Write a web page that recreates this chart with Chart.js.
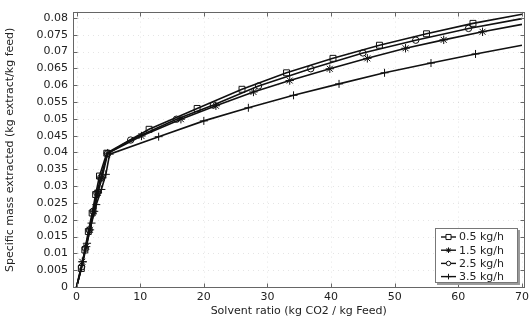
<!DOCTYPE html>
<html><head><meta charset="utf-8">
<script src="https://cdn.jsdelivr.net/npm/chart.js@4.4.0/dist/chart.umd.min.js"></script>
<style>html,body{margin:0;padding:0;background:#fff}#wrap{width:532px;height:320px}</style>
</head><body><div id="wrap"><canvas id="c" width="532" height="320"></canvas></div>
<script>
// ---- data ----
const seriesLabels = ['0.5 kg/h', '1.5 kg/h', '2.5 kg/h', '3.5 kg/h'];

const x05 = [0, 0.75, 1.3, 1.85, 2.45, 3.0, 3.6, 4.75, 11.4, 18.95, 26.0, 33.0, 40.3, 47.6, 55.0, 62.3, 70];
const y05 = [0, 0.0055, 0.011, 0.0165, 0.022, 0.0275, 0.033, 0.0398, 0.0469, 0.0531, 0.0588, 0.0637, 0.068, 0.0719, 0.0753, 0.0784, 0.0811];

const x15 = [0, 0.9, 1.5, 2.1, 2.75, 3.35, 4.0, 4.9, 10.2, 16.4, 21.9, 27.8, 33.5, 39.8, 45.7, 51.7, 57.7, 63.8, 70];
const y15 = [0, 0.0075, 0.012, 0.017, 0.0225, 0.028, 0.0325, 0.0398, 0.0449, 0.0499, 0.0539, 0.058, 0.0614, 0.0649, 0.068, 0.071, 0.0735, 0.0759, 0.0781];

const x25 = [0, 0.8, 1.4, 2.0, 2.6, 3.2, 3.8, 4.85, 8.5, 15.7, 21.5, 28.6, 36.8, 45.0, 53.3, 61.6, 70];
const y25 = [0, 0.006, 0.0115, 0.017, 0.0225, 0.028, 0.0325, 0.0397, 0.0437, 0.0499, 0.0541, 0.0598, 0.0649, 0.0696, 0.0734, 0.0769, 0.0798];

const x35 = [0, 1.0, 1.65, 2.35, 3.1, 3.9, 4.6, 5.2, 12.9, 20.0, 27.0, 34.1, 41.25, 48.4, 55.7, 62.7, 70];
const y35 = [0, 0.0075, 0.013, 0.019, 0.0245, 0.029, 0.0335, 0.0395, 0.0447, 0.0494, 0.0533, 0.057, 0.0604, 0.0637, 0.0666, 0.0693, 0.0719];

const xTicks = [0, 10, 20, 30, 40, 50, 60, 70];
const yTicks = [0, 0.005, 0.01, 0.015, 0.02, 0.025, 0.03, 0.035, 0.04, 0.045, 0.05, 0.055, 0.06, 0.065, 0.07, 0.075, 0.08];

const xTitle = 'Solvent ratio (kg CO2 / kg Feed)';
const yTitle = 'Specific mass extracted (kg extract/kg feed)';

// ---- styling ----
const FONT = 'DejaVu Sans';
const TXT = '#222';
const styles = [
  {pointStyle: 'rect', radius: 4.2, legendRadius: 3.6},
  {pointStyle: 'star', radius: 4.2, legendRadius: 2.8},
  {pointStyle: 'circle', radius: 3.2, legendRadius: 2.2},
  {pointStyle: 'cross', radius: 4, legendRadius: 2.8}
];
const xs = [x05, x15, x25, x35];
const ys = [y05, y15, y25, y35];

const datasets = seriesLabels.map((lab, i) => ({
  label: lab,
  data: xs[i].map((x, j) => ({x: x, y: ys[i][j]})),
  showLine: true,
  borderColor: '#111',
  borderWidth: 1.6,
  backgroundColor: 'rgba(0,0,0,0)',
  pointBackgroundColor: 'rgba(0,0,0,0)',
  pointBorderColor: '#111',
  pointBorderWidth: 1,
  pointStyle: styles[i].pointStyle,
  pointRadius: ctx => (ctx.dataIndex === 0 || ctx.dataIndex === xs[i].length - 1) ? 0 : styles[i].radius,
  pointHoverRadius: 0,
  tension: 0
}));

function fmt(v) { return String(+v.toFixed(3)); }

const framePlugin = {
  id: 'frame',
  beforeDatasetsDraw(chart) {
    const {ctx, chartArea: a, scales: {x, y}} = chart;
    ctx.save();
    ctx.strokeStyle = 'rgba(0,0,0,0.10)';
    ctx.lineWidth = 1;
    ctx.setLineDash([1, 4]);
    xTicks.forEach(v => {
      const px = Math.round(x.getPixelForValue(v)) + 0.5;
      ctx.beginPath(); ctx.moveTo(px, a.top); ctx.lineTo(px, a.bottom); ctx.stroke();
    });
    yTicks.forEach(v => {
      const py = Math.round(y.getPixelForValue(v)) + 0.5;
      ctx.beginPath(); ctx.moveTo(a.left, py); ctx.lineTo(a.right, py); ctx.stroke();
    });
    ctx.restore();
  },
  afterDatasetsDraw(chart) {
    const {ctx, chartArea: a, scales: {x, y}} = chart;
    ctx.save();
    ctx.strokeStyle = '#666';
    ctx.lineWidth = 1;
    ctx.setLineDash([]);
    const L = Math.round(a.left) + 0.5, R = Math.round(a.right) - 0.5;
    const T = Math.round(a.top) + 0.5, B = Math.round(a.bottom) - 0.5;
    ctx.strokeRect(L, T, R - L, B - T);
    const tl = 4;
    ctx.beginPath();
    xTicks.forEach(v => {
      const px = Math.round(x.getPixelForValue(v)) + 0.5;
      ctx.moveTo(px, B); ctx.lineTo(px, B - tl);
      ctx.moveTo(px, T); ctx.lineTo(px, T + tl);
    });
    yTicks.forEach(v => {
      const py = Math.round(y.getPixelForValue(v)) + 0.5;
      ctx.moveTo(L, py); ctx.lineTo(L + tl, py);
      ctx.moveTo(R, py); ctx.lineTo(R - tl, py);
    });
    ctx.stroke();
    ctx.restore();
  }
};

const legendPlugin = {
  id: 'boxLegend',
  afterDraw(chart) {
    const ctx = chart.ctx;
    const bx = 435, by = 228, bw = 83, bh = 55, rowH = 13.2, firstY = 236.5;
    ctx.save();
    ctx.fillStyle = '#9a9a9a';
    ctx.fillRect(bx + 2, by + 2, bw, bh);
    ctx.fillStyle = '#fff';
    ctx.fillRect(bx, by, bw, bh);
    ctx.strokeStyle = '#777';
    ctx.lineWidth = 1;
    ctx.strokeRect(bx + 0.5, by + 0.5, bw - 1, bh - 1);
    chart.data.datasets.forEach((ds, i) => {
      const cy = firstY + i * rowH;
      ctx.strokeStyle = '#111';
      ctx.lineWidth = 1.4;
      ctx.beginPath(); ctx.moveTo(bx + 6, cy + 0.5); ctx.lineTo(bx + 21, cy + 0.5); ctx.stroke();
      ctx.lineWidth = 1;
      ctx.fillStyle = '#fff';
      Chart.helpers.drawPoint(ctx, {pointStyle: styles[i].pointStyle, radius: styles[i].legendRadius, rotation: 0, borderWidth: 1}, bx + 13.5, cy + 0.5);
      ctx.fillStyle = TXT;
      ctx.font = '11px "' + FONT + '"';
      ctx.textBaseline = 'middle';
      ctx.textAlign = 'left';
      ctx.fillText(ds.label, bx + 24, cy + 1);
    });
    ctx.restore();
  }
};

new Chart(document.getElementById('c'), {
  type: 'scatter',
  data: {datasets},
  plugins: [framePlugin, legendPlugin],
  options: {
    responsive: false,
    animation: false,
    devicePixelRatio: 1,
    layout: {padding: {left: 0, right: 4, top: 9, bottom: 0}},
    plugins: {legend: {display: false}, tooltip: {enabled: false}},
    scales: {
      x: {
        type: 'linear', min: -0.56, max: 70.4,
        afterBuildTicks: s => { s.ticks = xTicks.map(v => ({value: v})); },
        afterFit: s => { s.height = 32; },
        grid: {display: false, drawTicks: false},
        border: {display: false},
        ticks: {font: {family: FONT, size: 11}, color: TXT, padding: 3, maxRotation: 0, autoSkip: false},
        title: {display: true, text: xTitle, font: {family: FONT, size: 11}, color: TXT, padding: {top: 0, bottom: 2}}
      },
      y: {
        type: 'linear', min: -0.0003, max: 0.0819,
        afterBuildTicks: s => { s.ticks = yTicks.map(v => ({value: v})); },
        afterFit: s => { s.width = 73; },
        grid: {display: false, drawTicks: false},
        border: {display: false},
        ticks: {font: {family: FONT, size: 11}, color: TXT, padding: 5, autoSkip: false, callback: v => fmt(v)},
        title: {display: true, text: yTitle, font: {family: FONT, size: 11}, color: TXT, padding: {top: 4, bottom: 0}}
      }
    }
  }
});
</script>
</body></html>
